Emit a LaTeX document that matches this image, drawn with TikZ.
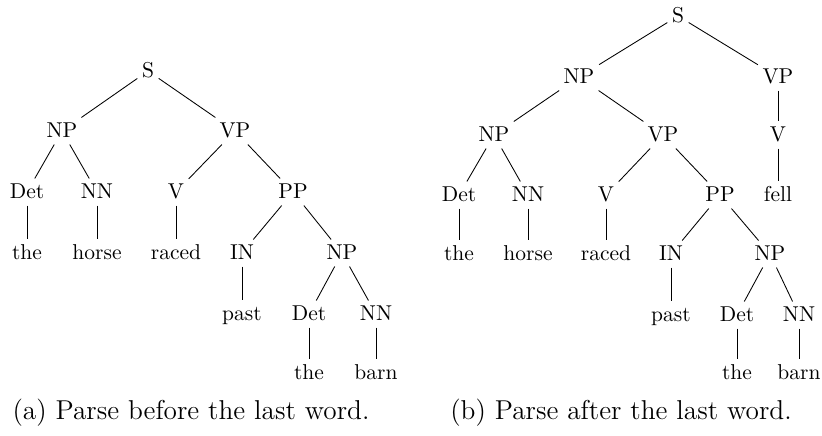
\documentclass[tikz,border=0pt]{standalone}
\begin{document}
\begin{tikzpicture}[x=0.01635cm,y=-0.01635cm,
		tag/.style={inner sep=2pt,text height=1.6ex,text depth=.3ex},
		subcap/.style={font=\fontsize{12.7}{15}\selectfont}]
				\useasboundingbox (0,0) rectangle (822,435);
				% (a) before the last word
				\node[tag] (s) at (148,71) {S};
				\node[tag] (np) at (62,131) {NP};
				\node[tag] (vp) at (235,131) {VP};
				\node[tag] (det) at (27,192) {Det};
				\node[tag] (nn) at (97,192) {NN};
				\node[tag] (v) at (176,192) {V};
				\node[tag] (pp) at (293,192) {PP};
				\node[tag] (w1) at (27,253) {the};
				\node[tag] (w2) at (97,253) {horse};
				\node[tag] (w3) at (176,253) {raced};
				\node[tag] (in) at (242,253) {IN};
				\node[tag] (np2) at (342,253) {NP};
				\node[tag] (w4) at (242,314) {past};
				\node[tag] (det2) at (309,314) {Det};
				\node[tag] (nn2) at (376,314) {NN};
				\node[tag] (w5) at (309,373) {the};
				\node[tag] (w6) at (376,373) {barn};
				\foreach \a/\b in {s/np,s/vp,np/det,np/nn,vp/v,vp/pp,det/w1,nn/w2,v/w3,pp/in,pp/np2,in/w4,np2/det2,np2/nn2,det2/w5,nn2/w6}{
						\draw (\a) -- (\b);
					}
				\node[subcap] (capa) at (191,413) {(a) Parse before the last word.};
				% (b) after the last word
				\node[tag] (t) at (678,16) {S};
				\node[tag] (tnp) at (579,77) {NP};
				\node[tag] (tvp) at (778,77) {VP};
				\node[tag] (tnp1) at (494,135) {NP};
				\node[tag] (tvp1) at (663,135) {VP};
				\node[tag] (tv) at (778,135) {V};
				\node[tag] (tdet) at (459,195) {Det};
				\node[tag] (tnn) at (528,195) {NN};
				\node[tag] (tv1) at (606,195) {V};
				\node[tag] (tpp) at (720,195) {PP};
				\node[tag] (u7) at (778,195) {fell};
				\node[tag] (u1) at (459,254) {the};
				\node[tag] (u2) at (528,254) {horse};
				\node[tag] (u3) at (606,254) {raced};
				\node[tag] (tin) at (671,254) {IN};
				\node[tag] (tnp2) at (770,254) {NP};
				\node[tag] (u4) at (671,315) {past};
				\node[tag] (tdet2) at (737,315) {Det};
				\node[tag] (tnn2) at (799,315) {NN};
				\node[tag] (u5) at (737,373) {the};
				\node[tag] (u6) at (799,373) {barn};
				\foreach \a/\b in {t/tnp,t/tvp,tnp/tnp1,tnp/tvp1,tvp/tv,tv/u7,tnp1/tdet,tnp1/tnn,tvp1/tv1,tvp1/tpp,tdet/u1,tnn/u2,tv1/u3,tpp/tin,tpp/tnp2,tin/u4,tnp2/tdet2,tnp2/tnn2,tdet2/u5,tnn2/u6}{
						\draw (\a) -- (\b);
					}
				\node[subcap] (capb) at (621,413) {(b) Parse after the last word.};
			\end{tikzpicture}
\end{document}
